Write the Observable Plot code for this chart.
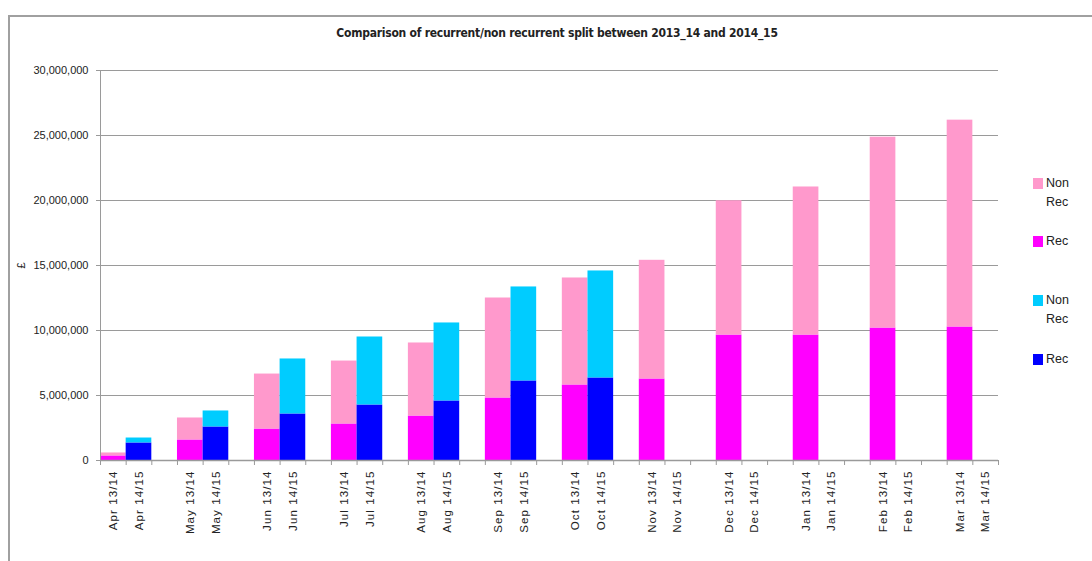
<!DOCTYPE html>
<html><head><meta charset="utf-8">
<script src="https://cdn.jsdelivr.net/npm/d3@7"></script>
<script src="https://cdn.jsdelivr.net/npm/@observablehq/plot@0.6"></script>
<style>
body{margin:0;background:#fff;}
#wrap{position:relative;width:1092px;height:561px;overflow:hidden;font-family:"Liberation Sans",Arial,sans-serif;color:#222;}
#frame{position:absolute;left:8px;top:15px;width:1100px;height:560px;border-top:2px solid #a0a0a0;border-left:2px solid #a0a0a0;pointer-events:none;}
#title{position:absolute;top:26px;left:0;width:1114px;text-align:center;font-family:"DejaVu Sans",sans-serif;font-stretch:condensed;font-weight:bold;font-size:12px;letter-spacing:-0.25px;}
#chart{position:absolute;left:0;top:0;}
#chart svg g[aria-label="x-axis tick label"] text{letter-spacing:1.1px;}
.leg{position:absolute;left:1033px;font-size:12.5px;line-height:19px;}
.leg .sw{position:absolute;left:0;width:10px;height:11px;}
.leg .tx{position:absolute;left:13px;top:-4px;white-space:pre;}
</style></head>
<body>
<div id="wrap">
  <div id="frame"></div>
  <div id="chart"></div>
  <div id="title">Comparison of recurrent/non recurrent split between 2013_14 and 2014_15</div>
</div>
<script>
const months = ["Apr","May","Jun","Jul","Aug","Sep","Oct","Nov","Dec","Jan","Feb","Mar"];
const periods = ["13/14","14/15"];
const rec1314    = [350000,1580000,2420000,2810000,3420000,4810000,5810000,6270000,9650000,9650000,10190000,10270000];
const nonRec1314 = [230000,1690000,4230000,4840000,5620000,7690000,8230000,9130000,10330000,11390000,14680000,15910000];
const rec1415    = [1350000,2580000,3580000,4270000,4580000,6120000,6350000];
const nonRec1415 = [380000,1230000,4230000,5230000,6000000,7230000,8230000];
const yTicks = [0,5000000,10000000,15000000,20000000,25000000,30000000];
const seriesNames  = ["Rec 13/14","Non Rec 13/14","Rec 14/15","Non Rec 14/15"];
const seriesColors = ["#ff00ff","#ff99cc","#0000ff","#00ccff"];
const legendItems = [
  {label:"Non\nRec", color:"#ff99cc", top:178},
  {label:"Rec", color:"#ff00ff", top:236},
  {label:"Non\nRec", color:"#00ccff", top:295},
  {label:"Rec", color:"#0000ff", top:354}
];

const rows = [];
const labels = new Map();
months.forEach((m, i) => {
  periods.forEach((p, j) => {
    const slot = i * 3 + j;
    labels.set(slot + 0.5, `${m} ${p}`);
    const rec = j === 0 ? rec1314[i] : rec1415[i];
    const non = j === 0 ? nonRec1314[i] : nonRec1415[i];
    if (rec === undefined) return;
    rows.push({slot, y1: 0, y2: rec, series: seriesNames[j*2]});
    rows.push({slot, y1: rec, y2: rec + non, series: seriesNames[j*2+1]});
  });
});
const nSlots = months.length * 3 - 1;

const chart = Plot.plot({
  width: 1092, height: 561,
  marginTop: 70, marginLeft: 100, marginRight: 94, marginBottom: 101,
  style: {fontFamily: "Liberation Sans, Arial, sans-serif", fontSize: "11px", color: "#222", background: "transparent"},
  x: {domain: [0, nSlots]},
  y: {domain: [0, 30000000]},
  color: {domain: seriesNames, range: seriesColors},
  marks: [
    Plot.gridY({ticks: yTicks, stroke: "#9a9a9a", strokeOpacity: 1}),
    Plot.rectY(rows, {x1: "slot", x2: d => d.slot + 1, y1: "y1", y2: "y2", fill: "series"}),
    Plot.ruleX([0], {y1: 0, y2: 30000000, stroke: "#9a9a9a"}),
    Plot.ruleY([0], {stroke: "#9a9a9a", strokeWidth: 1.5}),
    Plot.axisY({ticks: yTicks, tickFormat: d3.format(","), tickSize: 4, tickPadding: 8, stroke: "#9a9a9a", fill: "#222", fontSize: 11,
      label: "£", labelAnchor: "center", labelOffset: 83, labelArrow: "none"}),
    Plot.axisX({ticks: d3.range(0, nSlots + 1), tickSize: 5, tickFormat: () => "", stroke: "#9a9a9a", label: null}),
    Plot.axisX({ticks: [...labels.keys()], tickFormat: d => labels.get(d), tickRotate: -90, tickSize: 0, tickPadding: 10,
      fontSize: 11.5, fill: "#222", label: null})
  ]
});
document.getElementById("chart").appendChild(chart);

const wrap = document.getElementById("wrap");
legendItems.forEach(it => {
  const d = document.createElement("div");
  d.className = "leg";
  d.style.top = it.top + "px";
  const sw = document.createElement("div");
  sw.className = "sw"; sw.style.background = it.color;
  const tx = document.createElement("div");
  tx.className = "tx"; tx.textContent = it.label;
  d.appendChild(sw); d.appendChild(tx);
  wrap.appendChild(d);
});
</script>
</body></html>
